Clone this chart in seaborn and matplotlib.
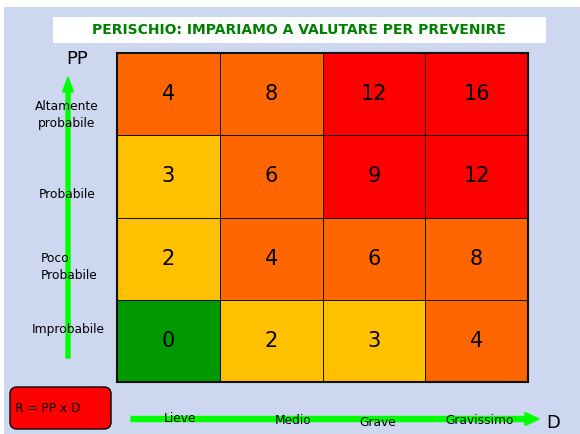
import matplotlib.pyplot as plt
import pandas as pd
import seaborn as sns
from matplotlib.colors import ListedColormap, BoundaryNorm
from matplotlib.patches import Rectangle, FancyBboxPatch

pp_labels = ["Altamente\nprobabile", "Probabile", "Poco\nProbabile", "Improbabile"]
d_labels = ["Lieve", "Medio", "Grave", "Gravissimo"]
risk = [[4, 8, 12, 16],
        [3, 6, 9, 12],
        [2, 4, 6, 8],
        [0, 2, 3, 4]]
level_bounds = [0, 1, 4, 9, 17]
level_colors = ["#009900", "#FFC000", "#FF6600", "#FF0000"]

data = pd.DataFrame(risk, index=pp_labels, columns=d_labels)

sns.set_style("white")
plt.rcParams['font.family'] = ['DejaVu Sans']
plt.rcParams['text.color'] = 'black'

fig = plt.figure(figsize=(5.8, 4.34), dpi=100)
fig.patch.set_facecolor("white")
fig.patches.append(Rectangle((4 / 580, 0), 1, (434 - 7) / 434, transform=fig.transFigure,
                             facecolor="#CDD8F0", edgecolor="none", zorder=-10))

hm = fig.add_axes([117 / 580, (434 - 382) / 434, 411 / 580, 329 / 434])
cmap = ListedColormap(level_colors)
norm = BoundaryNorm(level_bounds, cmap.N)
sns.heatmap(data, ax=hm, cmap=cmap, norm=norm, cbar=False, annot=True, fmt="d",
            annot_kws={"size": 15, "color": "black"}, linewidths=0.7, linecolor="#111111",
            xticklabels=False, yticklabels=False)
for s in hm.spines.values():
    s.set_visible(True)
    s.set_linewidth(1.5)
    s.set_color("#111111")

# overlay in pixel coordinates for decorations
ov = fig.add_axes([0, 0, 1, 1])
ov.set_xlim(0, 580)
ov.set_ylim(434, 0)
ov.axis("off")
ov.patch.set_alpha(0)

ov.add_patch(Rectangle((53, 17), 493, 26, facecolor="white", edgecolor="none"))
ov.text(299, 30, "PERISCHIO: IMPARIAMO A VALUTARE PER PREVENIRE", color="#008000",
        fontsize=10, fontweight="bold", ha="center", va="center")

green = "#00FF00"
ov.arrow(68, 358, 0, -281, width=4, head_width=11, head_length=15,
         length_includes_head=True, color=green, zorder=1)
ov.arrow(131, 419, 408, 0, width=5, head_width=13, head_length=14,
         length_includes_head=True, color=green, zorder=1)

ov.text(77, 59, "PP", fontsize=13, ha="center", va="center")
ov.text(553, 423, "D", fontsize=13, ha="center", va="center")

fs = 8.8
ov.text(67, 115, pp_labels[0], fontsize=fs, ha="center", va="center", zorder=2, linespacing=1.3)
ov.text(67, 194, pp_labels[1], fontsize=fs, ha="center", va="center", zorder=2)
ov.text(41, 267, pp_labels[2], fontsize=fs, ha="left", va="center", zorder=2, linespacing=1.4)
ov.text(68, 330, pp_labels[3], fontsize=fs, ha="center", va="center", zorder=2)

for x, y, lab in zip([180, 293, 378, 480], [418, 421, 423, 421], d_labels):
    ov.text(x, y, lab, fontsize=fs, ha="center", va="center", zorder=2)

ov.add_patch(FancyBboxPatch((10, 387), 101, 42, boxstyle="round,pad=0,rounding_size=7",
                            facecolor="#FF0000", edgecolor="black", lw=1))
ov.text(15, 408, "R = PP x D", fontsize=8.8, ha="left", va="center", family="DejaVu Sans")

fig.savefig("out.png", dpi=100)
